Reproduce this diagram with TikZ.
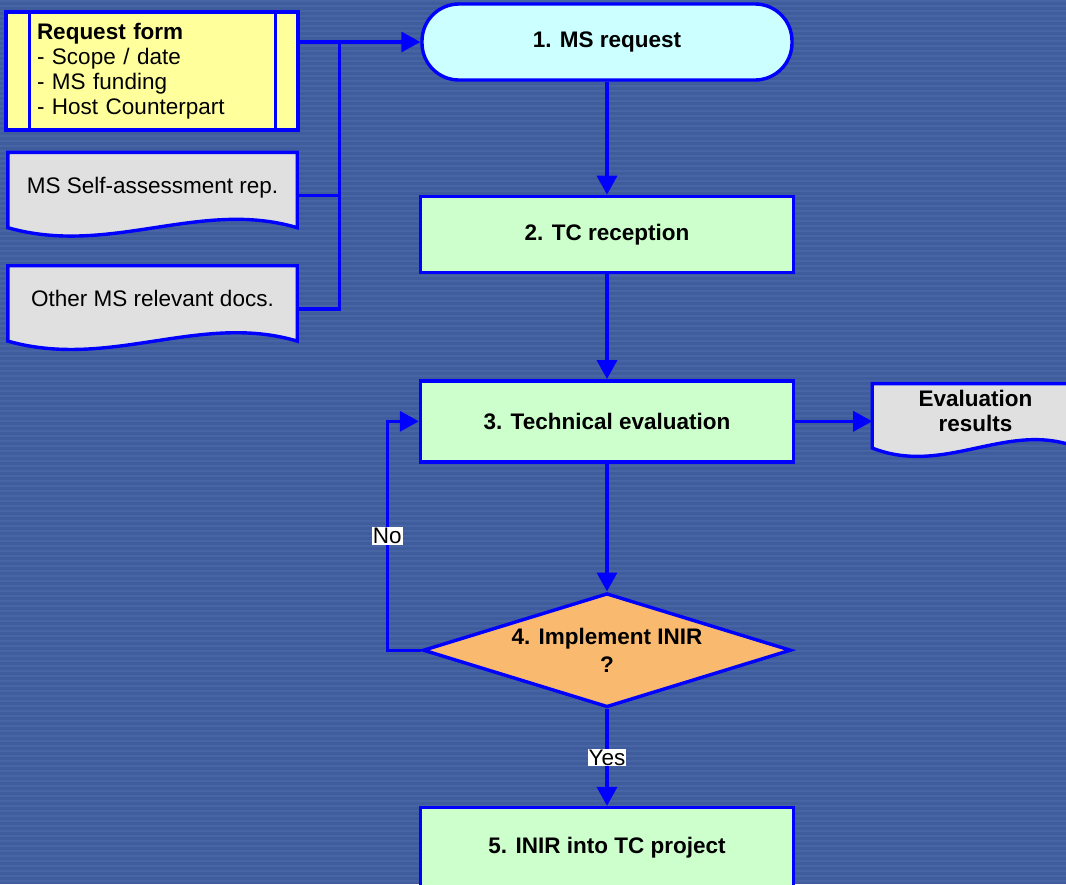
\documentclass[tikz,border=0pt]{standalone}
\usepackage{fontspec}
\setmainfont{Liberation Sans}
\usetikzlibrary{positioning,shapes.geometric,arrows.meta,calc}

\definecolor{backblue}{RGB}{63,93,157}
\definecolor{stripeblue}{RGB}{71,101,164}
\definecolor{lineblue}{RGB}{0,0,255}
\definecolor{formyellow}{RGB}{255,255,156}
\definecolor{startcyan}{RGB}{204,255,255}
\definecolor{stepgreen}{RGB}{204,255,204}
\definecolor{askorange}{RGB}{249,185,110}
\definecolor{docgray}{RGB}{224,224,224}

\pgfdeclarelayer{bg}
\pgfdeclarelayer{back}
\pgfsetlayers{bg,back,main}

% wavy document outline behind a docbox node
\newcommand{\docpath}[1]{%
  \begin{pgfonlayer}{back}
    \draw[docline] (#1.north west) -- (#1.north east) -- ([yshift=11pt]#1.south east)
      .. controls ($(#1.south east)!0.336!(#1.south west)+(0,40)$) and ($(#1.south west)!0.353!(#1.south east)+(0,-18)$)
      .. ([yshift=11pt]#1.south west) -- cycle;
  \end{pgfonlayer}}

\begin{document}
\begin{tikzpicture}[x=1pt,y=1pt,font=\fontsize{22.5}{25}\selectfont]
        % Define styles for nodes and edges
        \tikzstyle{line} = [draw=lineblue, line width=3.4pt]
        \tikzstyle{flow} = [line, -{Triangle[length=19pt,width=20pt]}]
        \tikzstyle{docline} = [line, fill=docgray]
        \tikzstyle{form} = [rectangle, line, fill=formyellow, minimum width=292pt, minimum height=118pt, text width=230pt, align=left, inner sep=0pt]
        \tikzstyle{start} = [rectangle, rounded corners=37pt, line, fill=startcyan, minimum width=370pt, minimum height=76pt, font=\fontsize{22.5}{25}\selectfont\bfseries]
        \tikzstyle{stepbox} = [rectangle, line, fill=stepgreen, minimum width=373pt, minimum height=76pt, font=\fontsize{22.5}{25}\selectfont\bfseries]
        \tikzstyle{ask} = [diamond, line, fill=askorange, aspect=3.23, minimum width=368pt, minimum height=114pt, inner sep=0pt, align=center, font=\fontsize{22.5}{28}\selectfont\bfseries]
        \tikzstyle{docbox} = [rectangle, minimum width=289pt, minimum height=86pt, text depth=21pt, align=center]
        \tikzstyle{answer} = [fill=white, text=black, inner sep=1pt]

        % Background
        \useasboundingbox (0,0) rectangle (1066,-884);
        \begin{pgfonlayer}{bg}
          \fill[backblue] (0,0) rectangle (1066,-884);
          \foreach \y in {0,5,...,880}
            \fill[stripeblue] (0,-\y) rectangle (1066,-\y-2);
        \end{pgfonlayer}

        % Nodes
        \node[form] (req) at (152,-71) {\textbf{Request form}\\- Scope / date\\- MS funding\\- Host Counterpart};
        \node[docbox] (selfrep) at (152.5,-195.5) {MS Self-assessment rep.};
        \node[docbox, below=27pt of selfrep] (otherdocs) {Other MS relevant docs.};
        \node[start] (msreq) at (607,-42) {1. MS request};
        \node[stepbox, below=113pt of msreq] (tcrec) {2. TC reception};
        \node[stepbox, below=105pt of tcrec, minimum height=81pt] (techeval) {3. Technical evaluation};
        \node[ask, below=128pt of techeval] (implement) {4. Implement INIR\\?};
        \node[stepbox, below=97pt of implement, minimum height=80pt] (inir) {5. INIR into TC project};
        \node[docbox, right=77pt of techeval, minimum width=206pt, minimum height=75pt, text depth=21pt, font=\fontsize{22.5}{25}\selectfont\bfseries] (evalres) {Evaluation\\results};

        % Document outlines
        \docpath{selfrep}
        \docpath{otherdocs}
        \docpath{evalres}

        % Form side bars
        \draw[line] ([xshift=25pt]req.north west) -- ([xshift=25pt]req.south west);
        \draw[line] ([xshift=-24pt]req.north east) -- ([xshift=-24pt]req.south east);

        % Arrows
        \coordinate (bus) at ($(req.east |- msreq.west)+(40,0)$);
        \draw[flow] (req.east |- msreq.west) -- (msreq.west);
        \draw[line] (otherdocs.east) -| (bus);
        \draw[line] (selfrep.east) -- (selfrep.east -| bus);
        \draw[flow] (msreq) -- (tcrec);
        \draw[flow] (tcrec) -- (techeval);
        \draw[flow] (techeval) -- (evalres);
        \draw[flow] (techeval) -- (implement);
        \draw[flow] (implement.west) -- ++(-34,0) |- (techeval.west) node[answer, pos=0.25] (no) {No};
        \draw[flow] (implement) -- (inir) node[answer, midway] (yes) {Yes};
\end{tikzpicture}
\end{document}
